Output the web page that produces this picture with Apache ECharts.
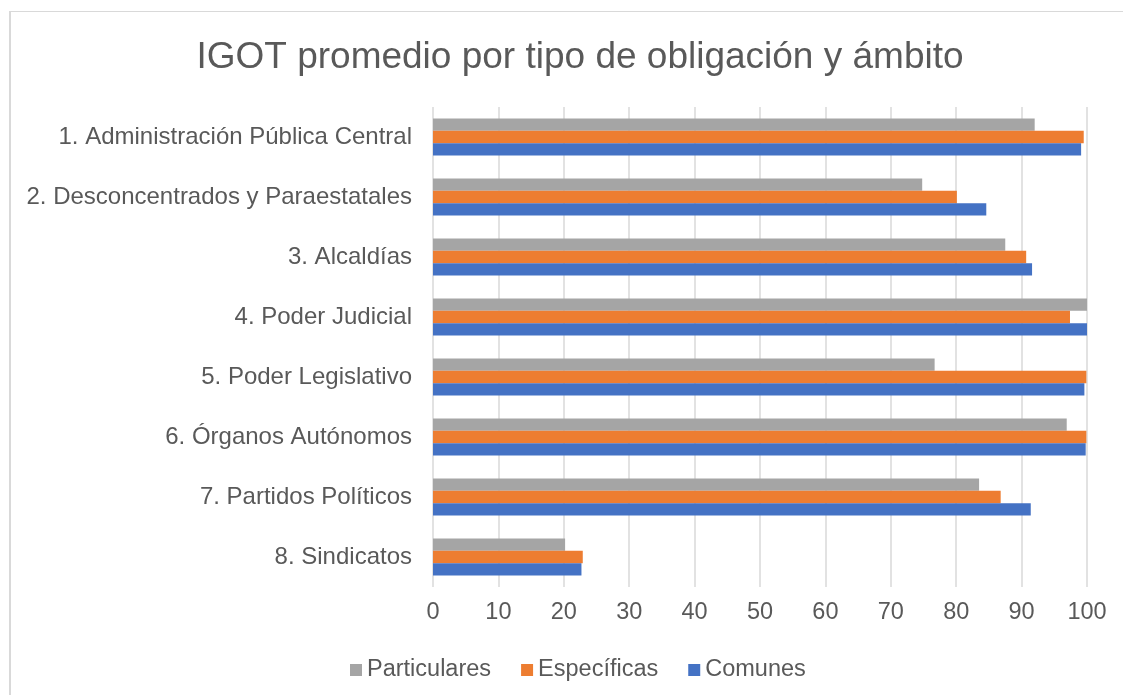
<!DOCTYPE html>
<html>
<head>
<meta charset="utf-8">
<script src="https://cdn.jsdelivr.net/npm/echarts@6/dist/echarts.min.js"></script>
<style>
  html, body { margin: 0; padding: 0; background: #fff; }
  #chart { width: 1123px; height: 695px; }
</style>
</head>
<body>
<div id="chart"></div>
<script>
const categories = [
  '1. Administración Pública Central',
  '2. Desconcentrados y Paraestatales',
  '3. Alcaldías',
  '4. Poder Judicial',
  '5. Poder Legislativo',
  '6. Órganos Autónomos',
  '7. Partidos Políticos',
  '8. Sindicatos'
]
const particulares = [92.0, 74.8, 87.5, 100, 76.7, 96.9, 83.5, 20.2]
const especificas = [99.5, 80.1, 90.7, 97.4, 99.9, 99.9, 86.8, 22.9]
const comunes = [99.1, 84.6, 91.6, 100, 99.6, 99.8, 91.4, 22.7]
const xTicks = { min: 0, max: 100, interval: 10 }

const textColor = '#595959'
const font = '"Liberation Sans", Arial, sans-serif'

const myChart = echarts.init(document.getElementById('chart'))

const option = {
  color: ['#a5a5a5', '#ed7d31', '#4472c4'],
  textStyle: { fontFamily: font },
  title: {
    text: 'IGOT promedio por tipo de obligación y ámbito',
    left: 575,
    textAlign: 'center',
    top: 34,
    textStyle: { color: textColor, fontSize: 37, fontWeight: 'normal', fontFamily: font }
  },
  legend: {
    data: ['Particulares', 'Específicas', 'Comunes'],
    left: 345,
    top: 653,
    icon: 'rect',
    itemWidth: 12,
    itemHeight: 12,
    itemGap: 30,
    textStyle: { color: textColor, fontSize: 23.5, fontFamily: font }
  },
  grid: { left: 433, right: 36, top: 107, height: 480, containLabel: false },
  xAxis: {
    type: 'value',
    min: xTicks.min,
    max: xTicks.max,
    interval: xTicks.interval,
    axisLine: { show: false },
    axisTick: { show: false },
    axisLabel: { color: textColor, fontSize: 23.5, margin: 14, fontFamily: font },
    splitLine: { lineStyle: { color: '#d9d9d9', width: 1.5 } }
  },
  yAxis: {
    type: 'category',
    data: categories,
    inverse: true,
    axisLine: { show: false },
    axisTick: { show: false },
    axisLabel: { color: textColor, fontSize: 24, margin: 21, fontFamily: font }
  },
  graphic: [
    { type: 'rect', shape: { x: 9, y: 11, width: 2, height: 684 }, style: { fill: '#d9d9d9' } },
    { type: 'rect', shape: { x: 9, y: 11, width: 1114, height: 1 }, style: { fill: '#d9d9d9' } }
  ],
  series: [
    { name: 'Particulares', type: 'bar', data: particulares, barGap: 0, barCategoryGap: '38%' },
    { name: 'Específicas', type: 'bar', data: especificas, barGap: 0, barCategoryGap: '38%' },
    { name: 'Comunes', type: 'bar', data: comunes, barGap: 0, barCategoryGap: '38%' }
  ]
}

myChart.setOption(option)
</script>
</body>
</html>
